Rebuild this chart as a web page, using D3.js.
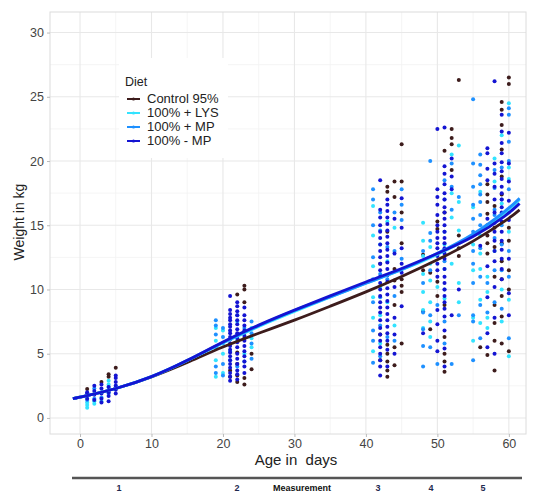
<!DOCTYPE html>
<html>
<head>
<meta charset="utf-8">
<script src="https://cdn.jsdelivr.net/npm/d3@7"></script>
<style>
  body { margin: 0; background: #fff; }
  text { font-family: "Liberation Sans", Arial, sans-serif; }
</style>
</head>
<body>
<div id="chart"></div>
<script>
// diets and colours
const diets = ["Control 95%", "100% + LYS", "100% + MP", "100% - MP"];
const dietColors = ["#3d1c1c", "#33e3ff", "#1e90ff", "#1414d2"];

// measured weights (kg) per age (days), one list per diet
const controlPts = [
  [1, [2.25]], [3, [2.8]], [4, [3.2, 3.4]], [5, [3.9]],
  [21, [3.2, 3.7]], [22, [2.8, 3.3, 4.2, 5.1, 9.6]], [23, [2.6, 3.1, 6.2, 9.0, 10.0, 10.3]], [24, [3.8, 5.0]],
  [42, [4.5, 6.5, 12.0]], [43, [3.2, 3.7, 4.4, 5.0, 5.7, 14.5, 17.6, 18.0]],
  [44, [4.1, 5.5, 8.8, 10.7, 11.6, 17.2, 18.4]], [45, [5.8, 9.8, 10.3, 10.8, 13.6, 16.0, 18.4, 21.3]],
  [48, [8.3, 11.5, 12.7]], [49, [6.9, 11.3]], [50, [9.5, 10.6, 14.7, 15.3]],
  [51, [3.6, 4.4, 5.0, 6.3, 8.8, 16.0, 20.8]], [52, [19.3, 21.3, 21.8, 22.5]], [53, [12.6, 13.2, 14.2, 26.3]],
  [56, [5.5]], [57, [4.9, 12.8, 13.6, 14.2, 15.0, 15.9, 16.8, 17.4, 18.2]],
  [58, [3.7, 6.0, 7.4, 8.8, 11.0, 13.3, 14.8, 16.5]],
  [59, [5.8, 7.9, 9.5, 10.8, 12.2, 13.6, 17.4, 18.8, 20.9, 22.8, 24.0, 24.6]],
  [60, [5.2, 10.0, 11.5, 13.8, 14.8, 26.0, 26.5]]
];
const lysPts = [
  [1, [0.8, 1.0, 1.2]], [2, [1.1, 1.3]], [3, [1.3]], [4, [2.6, 2.9]],
  [19, [3.2, 4.5, 6.0, 7.0]], [20, [3.5, 5.0, 6.8]], [21, [5.2]], [22, [6.0, 7.5]], [23, [5.0]], [24, [5.5, 6.2, 7.0]],
  [41, [5.2, 7.8, 9.4, 11.8, 14.2, 16.5]], [42, [5.8, 8.0, 10.2, 13.5]], [43, [9.0, 12.2, 15.3]], [44, [7.2, 14.8]],
  [48, [7.0, 8.4, 9.8, 11.2, 12.6, 13.8, 15.2]], [49, [6.3, 7.5, 9.0, 10.7, 12.0, 13.3]], [50, [10.2]],
  [51, [9.3, 11.6, 13.5]], [52, [12.0, 15.6, 17.5, 20.5]], [53, [9.0, 10.5, 14.6, 16.8, 21.2]],
  [55, [6.0, 7.8, 11.5, 13.5, 16.4]], [56, [7.4, 9.2, 11.6, 12.8, 14.2, 17.6]], [57, [7.0, 7.8, 9.8, 11.0]],
  [58, [13.0, 18.4, 20.2]], [59, [7.5, 10.0, 16.7, 22.0]], [60, [4.8, 9.2, 14.5, 18.6, 19.5, 24.5]]
];
const mpPts = [
  [1, [1.4, 1.7]], [2, [1.5, 2.3]], [3, [1.6, 2.0]], [4, [1.9, 2.4]], [5, [2.5]],
  [19, [3.5, 4.0, 5.5, 6.5, 7.2, 7.6]], [20, [3.3, 4.2, 5.8, 6.3, 7.0]], [21, [4.5]], [22, [4.0, 8.0]], [23, [4.4, 7.0]],
  [24, [4.6, 5.8, 6.6, 7.5]],
  [41, [4.3, 6.0, 6.8, 9.0, 10.8, 12.5, 15.0, 17.0, 17.8]], [42, [4.8, 7.2, 9.4, 11.2, 14.6, 16.0]],
  [43, [6.3, 10.8, 13.3]], [44, [6.0, 9.5, 13.0, 16.0]], [45, [12.4, 15.4, 16.6, 17.8]],
  [48, [4.0, 5.6, 6.9, 8.2, 10.5, 13.0]], [49, [5.5, 8.0, 11.5, 13.8, 14.4, 20.0]], [50, [4.2, 8.8, 12.7]],
  [51, [5.8, 7.5, 10.0, 12.2, 14.5, 17.0, 18.5]], [52, [4.2, 16.2, 18.0, 19.8]], [53, [8.0, 17.2]],
  [55, [4.5, 7.5, 8.0, 10.5, 12.0, 13.0, 14.5, 15.5, 16.6, 18.0, 19.8, 24.8]],
  [56, [6.2, 8.8, 11.0, 13.2, 15.0, 15.8, 16.8, 17.4, 18.2, 18.9, 19.7, 20.5]], [57, [8.2, 10.5]],
  [58, [9.0, 11.5, 14.0, 15.8, 16.2, 17.9, 19.3]], [59, [8.5, 11.5, 13.5, 15.0, 17.0, 19.5]],
  [60, [6.2, 11.0, 13.0, 16.0, 17.8, 20.0, 21.5, 23.6, 24.1]]
];
const minusMpPts = [
  [1, [1.5, 1.9, 2.0]], [2, [1.4, 1.8, 2.1, 2.5]], [3, [1.2, 1.5, 1.9, 2.3, 2.6]], [4, [1.3, 1.7, 2.0, 2.4]],
  [5, [1.9, 2.2, 2.5, 2.8, 3.1, 3.3]],
  [21, [2.9, 3.2, 3.5, 3.9, 4.2, 4.5, 4.8, 5.1, 5.3, 5.6, 5.8, 6.1, 6.3, 6.6, 6.8, 7.1, 7.3, 7.6, 7.8, 8.1, 8.4, 9.5]],
  [22, [3.0, 3.4, 3.7, 4.2, 4.6, 5.0, 5.5, 5.9, 6.2, 6.6, 6.9, 7.3, 7.6, 8.0, 8.3, 8.7, 9.0]],
  [23, [3.5, 4.0, 4.4, 4.8, 5.2, 5.6, 6.0, 6.4, 6.8, 7.2, 7.6, 8.0, 8.6]],
  [42, [3.3, 4.0, 4.5, 5.0, 5.5, 6.0, 6.5, 7.0, 7.6, 8.2, 8.6, 9.0, 9.5, 10.0, 10.5, 11.0, 11.5, 12.0,
        12.5, 13.0, 13.5, 14.0, 14.5, 15.0, 15.6, 16.2, 18.5]],
  [43, [4.0, 5.3, 6.0, 6.6, 7.1, 7.6, 8.1, 8.6, 9.1, 9.6, 10.1, 10.6, 11.1, 11.6, 12.1, 12.6, 13.1, 13.6,
        14.1, 14.6, 15.1, 15.6, 16.1, 16.6, 17.0]],
  [44, [5.0, 6.5, 7.8, 10.2, 12.8, 15.5]], [45, [8.7, 11.3, 12.0, 13.2, 14.8, 17.1]],
  [48, [6.6]],
  [50, [5.2, 6.0, 7.3, 8.4, 11.0, 11.5, 12.0, 12.6, 13.2, 13.6, 14.0, 14.5, 15.0, 15.8, 16.6, 17.2, 17.8, 22.5]],
  [51, [4.0, 5.4, 6.8, 7.9, 8.5, 9.0, 9.5, 10.0, 10.5, 11.0, 11.6, 12.4, 12.8, 13.2, 13.6, 14.0, 14.5, 15.0,
        15.5, 16.0, 16.4, 17.0, 17.5, 18.2, 19.0, 19.6, 22.6]],
  [52, [8.0, 17.8, 18.8, 20.2]], [53, [10.0]],
  [56, [13.4]], [57, [5.5, 6.6, 9.4, 11.8, 15.5, 18.5, 19.4, 20.6, 21.0]],
  [58, [5.0, 7.8, 10.2, 12.2, 13.0, 13.8, 14.5, 15.2, 16.0, 17.0, 18.0, 19.0, 19.8, 26.2]],
  [59, [10.8, 11.6, 12.4, 13.1, 13.8, 14.5, 15.3, 16.0, 16.4, 17.0, 17.5, 18.0, 18.6, 19.2, 19.9, 20.6, 21.4, 22.3, 23.6]],
  [60, [8.0, 9.7, 12.4, 15.4, 16.9, 18.4, 19.8, 22.2]]
];

// smoothed growth curves
const curveDays = [-1, 0, 5, 10, 15, 20, 25, 30, 35, 40, 45, 50, 55, 60, 61.5];
const controlFit = [1.5, 1.6, 2.25, 3.15, 4.3, 5.55, 6.6, 7.6, 8.7, 9.8, 11.0, 12.3, 13.7, 15.5, 16.2];
const lysFit = [1.5, 1.6, 2.25, 3.15, 4.45, 5.85, 7.15, 8.3, 9.4, 10.5, 11.5, 12.7, 14.1, 16.2, 17.0];
const mpFit = [1.5, 1.6, 2.25, 3.15, 4.45, 5.9, 7.2, 8.4, 9.4, 10.5, 11.5, 12.8, 14.2, 16.3, 17.1];
const minusMpFit = [1.5, 1.6, 2.25, 3.15, 4.45, 5.95, 7.25, 8.4, 9.5, 10.6, 11.6, 12.8, 14.0, 15.9, 16.7];

const xTicks = [0, 10, 20, 30, 40, 50, 60];
const yTicks = [0, 5, 10, 15, 20, 25, 30];
const measureLabels = ["1", "2", "Measurement", "3", "4", "5"];
const measureX = [119, 237, 302, 378, 431, 483];

const width = 533;
const height = 493;
const panel = { left: 50, right: 526, top: 12, bottom: 434 };

const svg = d3
  .select("#chart")
  .append("svg")
  .attr("width", width)
  .attr("height", height);

const x = d3.scaleLinear().domain([-4.2, 62.4]).range([panel.left, panel.right]);
const y = d3.scaleLinear().domain([-1.25, 31.6]).range([panel.bottom, panel.top]);

// grid
const grid = svg.append("g");
grid.selectAll(".vminor")
  .data(d3.range(5, 61, 10))
  .enter().append("line")
  .attr("x1", (d) => x(d)).attr("x2", (d) => x(d))
  .attr("y1", panel.top).attr("y2", panel.bottom)
  .attr("stroke", "#f2f2f2").attr("stroke-width", 0.8);
grid.selectAll(".hminor")
  .data(d3.range(2.5, 30, 5))
  .enter().append("line")
  .attr("x1", panel.left).attr("x2", panel.right)
  .attr("y1", (d) => y(d)).attr("y2", (d) => y(d))
  .attr("stroke", "#f2f2f2").attr("stroke-width", 0.8);
grid.selectAll(".vmajor")
  .data(xTicks)
  .enter().append("line")
  .attr("x1", (d) => x(d)).attr("x2", (d) => x(d))
  .attr("y1", panel.top).attr("y2", panel.bottom)
  .attr("stroke", "#e8e8e8").attr("stroke-width", 1.1);
grid.selectAll(".hmajor")
  .data(yTicks)
  .enter().append("line")
  .attr("x1", panel.left).attr("x2", panel.right)
  .attr("y1", (d) => y(d)).attr("y2", (d) => y(d))
  .attr("stroke", "#e8e8e8").attr("stroke-width", 1.1);

svg.append("rect")
  .attr("x", panel.left).attr("y", panel.top)
  .attr("width", panel.right - panel.left).attr("height", panel.bottom - panel.top)
  .attr("fill", "none").attr("stroke", "#dcdcdc").attr("stroke-width", 1);

// axes
const xAxis = svg.append("g")
  .attr("transform", `translate(0,${panel.bottom})`)
  .call(d3.axisBottom(x).tickValues(xTicks).tickSize(3).tickPadding(2));
const yAxis = svg.append("g")
  .attr("transform", `translate(${panel.left},0)`)
  .call(d3.axisLeft(y).tickValues(yTicks).tickSize(3).tickPadding(3));
[xAxis, yAxis].forEach((g) => {
  g.select(".domain").remove();
  g.selectAll(".tick line").attr("stroke", "#bbb");
  g.selectAll(".tick text")
    .attr("fill", "#444")
    .style("font-size", "12.5px")
    .style("font-family", "'Liberation Sans', Arial, sans-serif");
});

svg.append("text")
  .attr("x", 296).attr("y", 465)
  .attr("text-anchor", "middle")
  .style("font-size", "15px")
  .style("white-space", "pre")
  .attr("fill", "#222")
  .text("Age in  days");

svg.append("text")
  .attr("transform", "translate(24,222) rotate(-90)")
  .attr("text-anchor", "middle")
  .style("font-size", "14px")
  .attr("fill", "#222")
  .text("Weight in kg");

// points
const allPts = [controlPts, lysPts, mpPts, minusMpPts];
allPts.forEach((series, i) => {
  const flat = series.flatMap(([age, ws]) => ws.map((w) => [age, w]));
  svg.append("g")
    .selectAll("circle")
    .data(flat)
    .enter()
    .append("circle")
    .attr("cx", (d) => x(d[0]))
    .attr("cy", (d) => y(d[1]))
    .attr("r", 2)
    .attr("fill", dietColors[i]);
});

// fitted curves
const fits = [controlFit, lysFit, mpFit, minusMpFit];
const line = d3.line()
  .x((d) => x(d[0]))
  .y((d) => y(d[1]))
  .curve(d3.curveBasis);
fits.forEach((vals, i) => {
  svg.append("path")
    .datum(curveDays.map((d, j) => [d, vals[j]]))
    .attr("d", line)
    .attr("fill", "none")
    .attr("stroke", dietColors[i])
    .attr("stroke-width", 2.8);
});

// legend
const legend = svg.append("g");
legend.append("rect")
  .attr("x", 119).attr("y", 58)
  .attr("width", 109).attr("height", 100)
  .attr("fill", "#fff");
legend.append("text")
  .attr("x", 125).attr("y", 86)
  .style("font-size", "12.5px")
  .attr("fill", "#222")
  .text("Diet");
diets.forEach((name, i) => {
  const yy = 103 + i * 14;
  legend.append("line")
    .attr("x1", 127).attr("x2", 140)
    .attr("y1", yy - 4).attr("y2", yy - 4)
    .attr("stroke", dietColors[i]).attr("stroke-width", 2);
  legend.append("circle")
    .attr("cx", 133.5).attr("cy", yy - 4).attr("r", 1.6)
    .attr("fill", dietColors[i]);
  legend.append("text")
    .attr("x", 147).attr("y", yy)
    .style("font-size", "13px")
    .attr("fill", "#222")
    .text(name);
});

// measurement strip below
svg.append("line")
  .attr("x1", 72).attr("x2", 522)
  .attr("y1", 478).attr("y2", 478)
  .attr("stroke", "#555").attr("stroke-width", 2.5);
svg.selectAll(".meas")
  .data(measureLabels)
  .enter()
  .append("text")
  .attr("x", (d, i) => measureX[i])
  .attr("y", 491)
  .attr("text-anchor", "middle")
  .style("font-size", "9px")
  .style("font-weight", "bold")
  .attr("fill", (d) => (d === "Measurement" ? "#111" : "#1f2a50"))
  .text((d) => d);
</script>
</body>
</html>
